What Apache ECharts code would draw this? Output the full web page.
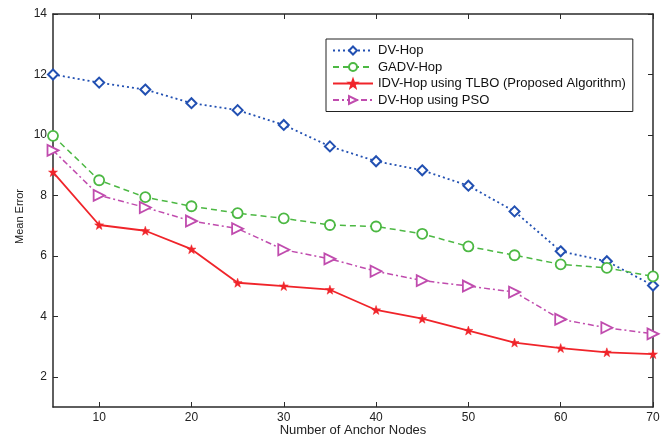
<!DOCTYPE html>
<html>
<head>
<meta charset="utf-8">
<script src="https://cdn.jsdelivr.net/npm/echarts@6/dist/echarts.min.js"></script>
<style>html,body{margin:0;padding:0;background:#fff}#c{width:672px;height:437px}</style>
</head>
<body>
<div id="c"></div>
<script>
var anchorNodes = [5, 10, 15, 20, 25, 30, 35, 40, 45, 50, 55, 60, 65, 70];
var dvHop   = [12.0, 11.73, 11.5, 11.05, 10.82, 10.33, 9.62, 9.13, 8.83, 8.32, 7.47, 6.15, 5.82, 5.02];
var gadvHop = [9.97, 8.5, 7.94, 7.64, 7.41, 7.24, 7.02, 6.97, 6.73, 6.31, 6.02, 5.72, 5.6, 5.32];
var tlbo    = [8.77, 7.02, 6.83, 6.22, 5.11, 5.0, 4.88, 4.21, 3.92, 3.53, 3.13, 2.95, 2.81, 2.75];
var pso     = [9.49, 8.0, 7.6, 7.15, 6.9, 6.2, 5.9, 5.49, 5.18, 5.0, 4.8, 3.9, 3.62, 3.42];
var xTicks = [10, 20, 30, 40, 50, 60, 70];
var yTicks = [2, 4, 6, 8, 10, 12, 14];
var seriesNames = ['DV-Hop', 'GADV-Hop', 'IDV-Hop using TLBO (Proposed Algorithm)', 'DV-Hop using PSO'];

function pairs(vals) { return anchorNodes.map(function (x, i) { return [x, vals[i]]; }); }

var FONT = 'Liberation Sans';
var AX = '#2a2a2a';
var starPath = 'path://M0,-10 L2.4,-3.3 L9.5,-3.1 L3.8,1.2 L5.9,8.1 L0,4 L-5.9,8.1 L-3.8,1.2 L-9.5,-3.1 L-2.4,-3.3 Z';

var chart = echarts.init(document.getElementById('c'), null, {renderer: 'canvas'});
var baseX = {type: 'value', min: 5, max: 70,
  axisLine: {show: true, onZero: false, lineStyle: {color: AX, width: 1.5}},
  axisTick: {show: true, inside: true, length: 5, customValues: xTicks, lineStyle: {color: AX}},
  splitLine: {show: false}};
var baseY = {type: 'value', min: 1, max: 14,
  axisLine: {show: true, onZero: false, lineStyle: {color: AX, width: 1.5}},
  axisTick: {show: true, inside: true, length: 5, customValues: yTicks, lineStyle: {color: AX}},
  splitLine: {show: false}};

chart.setOption({
  animation: false,
  backgroundColor: '#fff',
  textStyle: {fontFamily: FONT},
  grid: {left: 53, right: 19, top: 14, bottom: 30, containLabel: false, outerBoundsMode: 'none'},
  xAxis: [
    Object.assign({}, baseX, {position: 'bottom',
      name: 'Number of Anchor Nodes', nameLocation: 'middle', nameGap: 17, nameMoveOverlap: false,
      nameTextStyle: {fontFamily: FONT, fontSize: 13, color: '#222'},
      axisLabel: {show: true, customValues: xTicks, margin: 5, fontFamily: FONT, fontSize: 12, color: '#222'}}),
    Object.assign({}, baseX, {position: 'top', axisLabel: {show: false}})
  ],
  yAxis: [
    Object.assign({}, baseY, {position: 'left',
      name: 'Mean Error', nameLocation: 'middle', nameGap: 28, nameMoveOverlap: false,
      nameTextStyle: {fontFamily: FONT, fontSize: 11, color: '#222', padding: [0, 12, 0, 0]},
      axisLabel: {show: true, customValues: yTicks, margin: 6, fontFamily: FONT, fontSize: 12, color: '#222'}}),
    Object.assign({}, baseY, {position: 'right', axisLabel: {show: false}})
  ],
  legend: {
    orient: 'vertical', left: 326, top: 39,
    data: seriesNames,
    itemWidth: 40, itemHeight: 10, itemGap: 3.5,
    padding: [5, 7, 5, 6],
    borderColor: '#222', borderWidth: 1,
    textStyle: {fontFamily: FONT, fontSize: 13, color: '#111'}
  },
  series: [
    {name: seriesNames[0], type: 'line', data: pairs(dvHop),
      symbol: 'diamond', symbolSize: 10,
      lineStyle: {color: '#2250b2', width: 1.8, type: [2, 3]},
      itemStyle: {color: '#fff', borderColor: '#2250b2', borderWidth: 2}},
    {name: seriesNames[1], type: 'line', data: pairs(gadvHop),
      symbol: 'circle', symbolSize: 10,
      lineStyle: {color: '#4cb843', width: 1.5, type: [6, 4]},
      itemStyle: {color: '#fff', borderColor: '#4cb843', borderWidth: 1.8}},
    {name: seriesNames[2], type: 'line', data: pairs(tlbo),
      symbol: starPath, symbolSize: 9,
      lineStyle: {color: '#f0242a', width: 1.8, type: 'solid'},
      itemStyle: {color: '#f0242a', borderColor: '#f0242a', borderWidth: 0.5}},
    {name: seriesNames[3], type: 'line', data: pairs(pso),
      symbol: 'triangle', symbolRotate: -90, symbolSize: 11,
      lineStyle: {color: '#c04cae', width: 1.5, type: [6, 3, 2, 3]},
      itemStyle: {color: '#fff', borderColor: '#c04cae', borderWidth: 1.8}}
  ]
});
</script>
</body>
</html>
